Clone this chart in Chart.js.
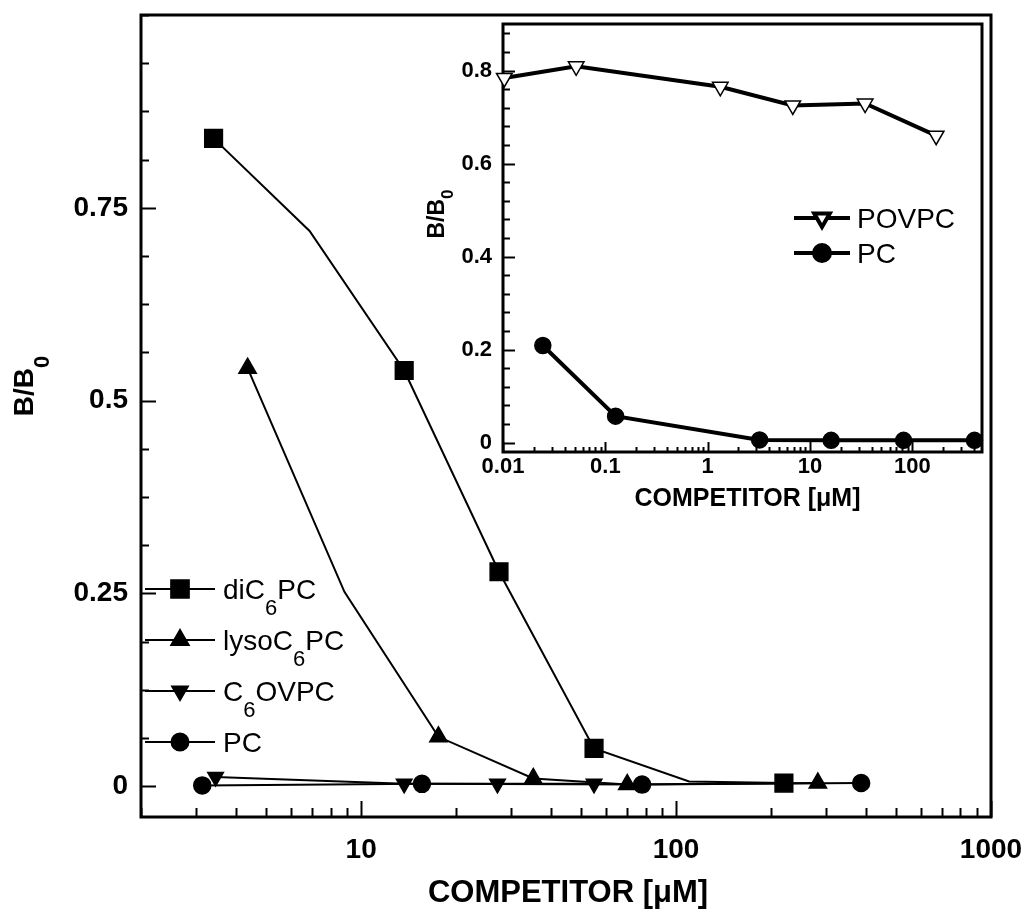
<!DOCTYPE html>
<html>
<head>
<meta charset="utf-8">
<script src="https://cdn.jsdelivr.net/npm/chart.js@4.4.0/dist/chart.umd.min.js"></script>
<style>
  body { margin: 0; background: #fff; }
  #wrap { position: relative; width: 1025px; height: 921px; }
  #main { position: absolute; left: 0; top: 0; }
  #inset { position: absolute; left: 400px; top: 0; }
</style>
</head>
<body>
<div id="wrap">
  <canvas id="main" width="1025" height="921"></canvas>
  <canvas id="inset" width="600" height="520"></canvas>
</div>
<script>
// main panel, competitor concentration in uM vs B/B0
const diC6PC_x = [3.4, 6.86, 13.7, 27.4, 54.9, 110, 220];
const diC6PC_y = [0.84, 0.72, 0.539, 0.278, 0.049, 0.006, 0.004];
const lysoC6PC_x = [4.36, 8.85, 17.6, 35.2, 70, 282];
const lysoC6PC_y = [0.542, 0.252, 0.064, 0.01, 0.002, 0.004];
const C6OVPC_x = [3.45, 13.7, 27.1, 54.9];
const C6OVPC_y = [0.012, 0.003, 0.003, 0.003];
const PC_x = [3.13, 15.6, 78, 387];
const PC_y = [0.001, 0.003, 0.002, 0.004];

// inset panel
const POVPC_x = [0.0103, 0.0519, 1.33, 6.79, 34.6, 171];
const POVPC_y = [0.784, 0.809, 0.765, 0.725, 0.729, 0.660];
const insetPC_x = [0.0245, 0.126, 3.22, 16.1, 82.2, 405];
const insetPC_y = [0.209, 0.057, 0.006, 0.005, 0.005, 0.005];

// names, "_6" marks a subscript
const mainNames = ['diC_6PC', 'lysoC_6PC', 'C_6OVPC', 'PC'];
const insetNames = ['POVPC', 'PC'];

// labelled ticks
const mainXLabels = [10, 100, 1000];
const mainYLabels = [0, 0.25, 0.5, 0.75];
const insetXLabels = [0.01, 0.1, 1, 10, 100];
const insetYLabels = [0, 0.2, 0.4, 0.6, 0.8];

const FONT = '"Liberation Sans", Arial, Helvetica, sans-serif';

function pts(xs, ys) {
  return xs.map((x, i) => ({ x: x, y: ys[i] }));
}

function logTicks(lo, hi) {
  const out = [];
  for (let e = -3; e <= 3; e++) {
    for (let m = 1; m <= 9; m++) {
      const v = Number((m * Math.pow(10, e)).toPrecision(6));
      if (v >= lo && v <= hi) out.push(v);
    }
  }
  return out;
}

function linTicks(step, n) {
  const out = [];
  for (let k = 0; k <= n; k++) out.push(Number((k * step).toPrecision(6)));
  return out;
}

function findLabel(list, v) {
  return list.find(m => Math.abs(m - v) <= 1e-9 * Math.max(1, Math.abs(m)));
}

// fixed box size, no extra room for label overhang
function fixSize(prop, size) {
  return s => {
    s[prop] = size;
    s.paddingTop = s.paddingBottom = s.paddingLeft = s.paddingRight = 0;
  };
}

// draws "diC_6PC" with a lowered small 6
function richParts(name) {
  return name.split(/_(\d)/).map((t, i) => ({ t: t, sub: i % 2 === 1 }));
}
function drawRich(ctx, name, x, y, font, subFont, drop) {
  let cx = x;
  for (const p of richParts(name)) {
    ctx.font = p.sub ? subFont : font;
    ctx.fillText(p.t, cx, y + (p.sub ? drop : 0));
    cx += ctx.measureText(p.t).width;
  }
}
function richWidth(ctx, name, font, subFont) {
  let w = 0;
  for (const p of richParts(name)) {
    ctx.font = p.sub ? subFont : font;
    w += ctx.measureText(p.t).width;
  }
  return w;
}

// inward ticks and the box around the plot
const boxTicks = {
  id: 'boxTicks',
  beforeDatasetsDraw(chart, args, o) {
    const { ctx, chartArea: a } = chart;
    ctx.save();
    ctx.strokeStyle = '#000';
    ctx.lineWidth = o.tickWidth;
    const xs = chart.scales.x, ys = chart.scales.y;
    xs.ticks.forEach(t => {
      const px = Math.round(xs.getPixelForValue(t.value)) + 0.5;
      const len = findLabel(o.xLabels, t.value) !== undefined ? o.xMajor : o.xMinor;
      ctx.beginPath(); ctx.moveTo(px, a.bottom); ctx.lineTo(px, a.bottom - len); ctx.stroke();
    });
    ys.ticks.forEach(t => {
      const py = Math.round(ys.getPixelForValue(t.value)) + 0.5;
      const len = findLabel(o.yLabels, t.value) !== undefined ? o.yMajor : o.yMinor;
      ctx.beginPath(); ctx.moveTo(a.left, py); ctx.lineTo(a.left + len, py); ctx.stroke();
    });
    ctx.lineWidth = o.frameWidth;
    ctx.strokeRect(a.left, a.top, a.right - a.left, a.bottom - a.top);
    ctx.restore();
  }
};

// axis titles and the legend
const notes = {
  id: 'notes',
  afterDatasetsDraw(chart, args, o) {
    const { ctx, chartArea: a } = chart;
    ctx.save();
    ctx.fillStyle = '#000';
    ctx.textBaseline = 'alphabetic';
    ctx.textAlign = 'left';

    // x title
    ctx.font = o.xTitle.font;
    const tw = ctx.measureText(o.xTitle.text).width;
    ctx.fillText(o.xTitle.text, (a.left + a.right) / 2 - tw / 2 + o.xTitle.dx, o.xTitle.y);

    // y title, rotated
    const yt = o.yTitle;
    ctx.translate(yt.x, yt.y);
    ctx.rotate(-Math.PI / 2);
    const yw = richWidth(ctx, yt.text, yt.font, yt.subFont);
    drawRich(ctx, yt.text, -yw / 2, 0, yt.font, yt.subFont, yt.drop);
    ctx.setTransform(1, 0, 0, 1, 0, 0);

    // legend
    const lg = o.legend;
    chart.data.datasets.forEach((ds, i) => {
      const y = lg.y + i * lg.step;
      ctx.strokeStyle = '#000';
      ctx.lineWidth = ds.borderWidth;
      ctx.beginPath(); ctx.moveTo(lg.x0, y); ctx.lineTo(lg.x1, y); ctx.stroke();
      ctx.fillStyle = ds.pointBackgroundColor;
      ctx.strokeStyle = '#000';
      Chart.helpers.drawPoint(ctx, {
        pointStyle: ds.pointStyle,
        rotation: ds.pointRotation || 0,
        radius: lg.radius[i],
        borderWidth: ds.pointBorderWidth
      }, (lg.x0 + lg.x1) / 2, y);
      ctx.fillStyle = '#000';
      drawRich(ctx, lg.names[i], lg.tx, y + lg.base, lg.font, lg.subFont, lg.drop);
    });
    ctx.restore();
  }
};

function lineSet(label, data, style, radius, rot, width, fill) {
  return {
    label: label,
    data: data,
    borderColor: '#000',
    borderWidth: width,
    pointStyle: style,
    pointRotation: rot,
    pointRadius: radius,
    pointHoverRadius: radius,
    pointBackgroundColor: fill,
    pointBorderColor: '#000',
    pointBorderWidth: 1.5,
    tension: 0,
    fill: false,
    clip: false
  };
}

new Chart(document.getElementById('main'), {
  type: 'line',
  data: {
    datasets: [
      lineSet('diC6PC', pts(diC6PC_x, diC6PC_y), 'rect', [12.5, 0, 12.5, 12.5, 12.5, 0, 12.5], 0, 2, '#000'),
      lineSet('lysoC6PC', pts(lysoC6PC_x, lysoC6PC_y), 'triangle', [10, 0, 10, 10, 10, 10], 0, 2, '#000'),
      lineSet('C6OVPC', pts(C6OVPC_x, C6OVPC_y), 'triangle', 9, 180, 2, '#000'),
      lineSet('PC', pts(PC_x, PC_y), 'circle', 8.5, 0, 2, '#000')
    ]
  },
  options: {
    responsive: false,
    animation: false,
    devicePixelRatio: 1,
    layout: { padding: { top: 15, right: 34, left: 0, bottom: 0 } },
    scales: {
      x: {
        type: 'logarithmic',
        min: 2,
        max: 1000,
        afterBuildTicks: s => { s.ticks = logTicks(2, 1000).map(v => ({ value: v })); },
        afterFit: fixSize('height', 104),
        grid: { display: false, drawTicks: false },
        border: { display: false },
        ticks: {
          autoSkip: false,
          maxRotation: 0,
          padding: 16,
          color: '#000',
          font: { family: FONT, size: 28, weight: 'bold' },
          callback: v => { const m = findLabel(mainXLabels, v); return m === undefined ? '' : String(m); }
        }
      },
      y: {
        type: 'linear',
        min: -0.04,
        max: 1.0,
        afterBuildTicks: s => { s.ticks = linTicks(0.0625, 16).map(v => ({ value: v })); },
        afterFit: fixSize('width', 141),
        grid: { display: false, drawTicks: false },
        border: { display: false },
        ticks: {
          autoSkip: false,
          padding: 13,
          color: '#000',
          font: { family: FONT, size: 28, weight: 'bold' },
          callback: v => { const m = findLabel(mainYLabels, v); return m === undefined ? '' : String(m); }
        }
      }
    },
    plugins: {
      legend: { display: false },
      tooltip: { enabled: false },
      boxTicks: { tickWidth: 2, frameWidth: 3, xLabels: mainXLabels, yLabels: mainYLabels, xMajor: 16, xMinor: 9, yMajor: 15, yMinor: 8 },
      notes: {
        xTitle: { text: 'COMPETITOR [\u03BCM]', font: 'bold 31px ' + FONT, y: 902, dx: 2 },
        yTitle: { text: 'B/B_0', x: 33, y: 386, font: 'bold 28px ' + FONT, subFont: 'bold 22px ' + FONT, drop: 16 },
        legend: {
          names: mainNames, x0: 145, x1: 215, y: 589, step: 51, tx: 223, base: 10,
          radius: [12.5, 10, 9, 8.5],
          font: '28px ' + FONT, subFont: '22px ' + FONT, drop: 16
        }
      }
    }
  },
  plugins: [boxTicks, notes]
});

new Chart(document.getElementById('inset'), {
  type: 'line',
  data: {
    datasets: [
      lineSet('POVPC', pts(POVPC_x, POVPC_y), 'triangle', 9, 180, 4, '#fff'),
      lineSet('PC', pts(insetPC_x, insetPC_y), 'circle', 8, 0, 4, '#000')
    ]
  },
  options: {
    responsive: false,
    animation: false,
    devicePixelRatio: 1,
    layout: { padding: { top: 24, right: 18, left: 0, bottom: 0 } },
    scales: {
      x: {
        type: 'logarithmic',
        min: 0.01,
        max: 480,
        afterBuildTicks: s => { s.ticks = logTicks(0.01, 480).map(v => ({ value: v })); },
        afterFit: fixSize('height', 68),
        grid: { display: false, drawTicks: false },
        border: { display: false },
        ticks: {
          autoSkip: false,
          maxRotation: 0,
          padding: 2,
          color: '#000',
          font: { family: FONT, size: 22, weight: 'bold' },
          callback: v => { const m = findLabel(insetXLabels, v); return m === undefined ? '' : String(m); }
        }
      },
      y: {
        type: 'linear',
        min: -0.02,
        max: 0.9,
        afterBuildTicks: s => { s.ticks = linTicks(0.04, 22).map(v => ({ value: v })); },
        afterFit: fixSize('width', 103),
        grid: { display: false, drawTicks: false },
        border: { display: false },
        ticks: {
          autoSkip: false,
          padding: 11,
          color: '#000',
          font: { family: FONT, size: 22, weight: 'bold' },
          callback: v => { const m = findLabel(insetYLabels, v); return m === undefined ? '' : String(m); }
        }
      }
    },
    plugins: {
      legend: { display: false },
      tooltip: { enabled: false },
      boxTicks: { tickWidth: 2, frameWidth: 3, xLabels: insetXLabels, yLabels: insetYLabels, xMajor: 10, xMinor: 5, yMajor: 12, yMinor: 7 },
      notes: {
        xTitle: { text: 'COMPETITOR [\u03BCM]', font: 'bold 25px ' + FONT, y: 506, dx: 5 },
        yTitle: { text: 'B/B_0', x: 44, y: 214, font: 'bold 23px ' + FONT, subFont: 'bold 17px ' + FONT, drop: 9 },
        legend: {
          names: insetNames, x0: 394, x1: 450, y: 218, step: 35, tx: 457, base: 10,
          radius: [9, 8],
          font: '28px ' + FONT, subFont: '22px ' + FONT, drop: 16
        }
      }
    }
  },
  plugins: [boxTicks, notes]
});
</script>
</body>
</html>
